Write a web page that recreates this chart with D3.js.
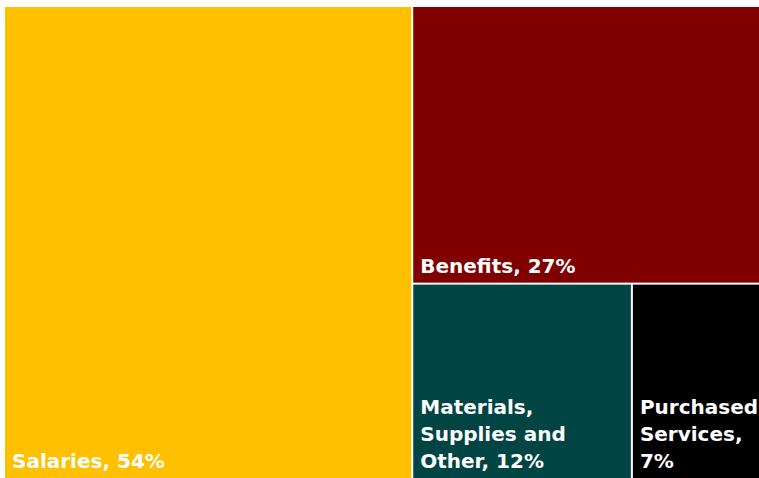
<!DOCTYPE html>
<html>
<head>
<meta charset="utf-8">
<script src="https://cdn.jsdelivr.net/npm/d3@7"></script>
<style>
  html, body { margin: 0; padding: 0; background: #fff; }
  svg { display: block; }
  .cell-label { font-family: "DejaVu Sans", Verdana, sans-serif; font-weight: bold; fill: #fff; }
</style>
</head>
<body>
<svg id="chart" width="759" height="478"></svg>
<script>
// Expense categories and their share of the total (percent)
const categories = ["Salaries", "Benefits", "Materials, Supplies and Other", "Purchased Services"];
const shares = [54, 27, 12, 7];
const colors = ["#FFC000", "#800000", "#004544", "#000000"];
// Label lines as drawn inside each cell
const labelLines = [
  ["Salaries, 54%"],
  ["Benefits, 27%"],
  ["Materials,", "Supplies and", "Other, 12%"],
  ["Purchased", "Services,", "7%"]
];

const W = 759, H = 478;
const margin = { top: 7, right: 0, bottom: 0, left: 5 };

const svg = d3.select("#chart");

const root = d3.hierarchy({
  children: categories.map((c, i) => ({ name: c, value: shares[i], idx: i }))
}).sum(d => d.value || 0);

d3.treemap()
  .tile(d3.treemapSquarify)
  .size([W - margin.left - margin.right, H - margin.top - margin.bottom])
  .paddingInner(2)
  .round(false)(root);

const g = svg.append("g").attr("transform", `translate(${margin.left},${margin.top})`);

const cell = g.selectAll("g.cell")
  .data(root.leaves())
  .join("g")
  .attr("class", "cell")
  .attr("transform", d => `translate(${d.x0},${d.y0})`);

cell.append("rect")
  .attr("width", d => d.x1 - d.x0)
  .attr("height", d => d.y1 - d.y0)
  .attr("fill", d => colors[d.data.idx]);

const fontSize = 20, lineH = 27;
cell.each(function(d) {
  const lines = labelLines[d.data.idx];
  const h = d.y1 - d.y0;
  const t = d3.select(this).append("text")
    .attr("class", "cell-label")
    .attr("font-size", fontSize);
  lines.forEach((ln, k) => {
    t.append("tspan")
      .attr("x", 7)
      .attr("y", h - 10 - (lines.length - 1 - k) * lineH)
      .text(ln);
  });
});
</script>
</body>
</html>
